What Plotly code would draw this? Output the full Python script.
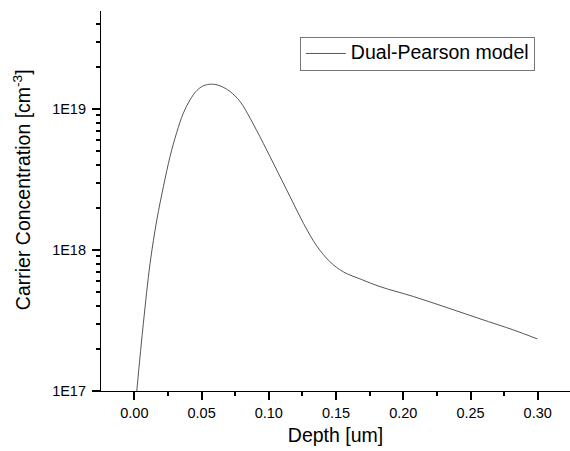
import plotly.graph_objects as go

depth_um = [0.0018, 0.0067, 0.0117, 0.0167, 0.0216, 0.0266, 0.0315, 0.0364,
            0.0414, 0.0464, 0.0513, 0.0576, 0.0637, 0.0712, 0.0786, 0.0861,
            0.0959, 0.1059, 0.1158, 0.1257, 0.1356, 0.1455, 0.1554, 0.1691, 0.1827,
            0.2075, 0.2323, 0.2571, 0.2819, 0.2997]
concentration = [1.00e17, 3.02e17, 8.05e17, 1.63e18, 2.81e18, 4.62e18, 6.80e18,
                 9.33e18, 1.16e19, 1.35e19, 1.46e19, 1.50e19, 1.46e19, 1.33e19, 1.13e19,
                 8.60e18, 5.71e18, 3.69e18, 2.39e18, 1.55e18, 1.07e18, 8.25e17,
                 7.00e17, 6.17e17, 5.50e17, 4.68e17, 3.91e17, 3.25e17, 2.71e17, 2.34e17]

y_major_vals = [1e17, 1e18, 1e19]
y_major_text = ["1E17", "1E18", "1E19"]
y_minor_vals = [float(m) * 10.0 ** e for e in (17, 18, 19) for m in range(2, 10)
                if float(m) * 10.0 ** e <= 5e19]

series_name = "Dual-Pearson model"
x_title = "Depth [um]"
y_title = "Carrier Concentration [cm<sup>-3</sup>]"

FONT = "Liberation Sans, Arial, sans-serif"

fig = go.Figure()
fig.add_trace(go.Scatter(
    x=depth_um, y=concentration, mode="lines",
    name="<span style='font-size:19.5px'>" + series_name + "</span>",
    line=dict(color="#555555", width=1, shape="spline", smoothing=1.0),
))

fig.update_layout(
    width=570, height=451,
    margin=dict(l=101, r=0, t=11, b=60),
    paper_bgcolor="white", plot_bgcolor="white",
    font=dict(family=FONT, color="black", size=14),
    showlegend=True,
    legend=dict(
        x=0.424, y=0.932, xanchor="left", yanchor="top",
        bordercolor="#777777", borderwidth=1, bgcolor="white",
        font=dict(family=FONT, size=14, color="black"),
        itemwidth=40,
    ),
    annotations=[dict(
        text=y_title, textangle=-90, showarrow=False,
        xref="paper", yref="paper", x=-0.168, y=0.529,
        xanchor="center", yanchor="middle",
        font=dict(family=FONT, size=19.5, color="black"),
    )],
)

fig.update_xaxes(
    automargin=False,
    range=[-0.0248, 0.324],
    tickmode="linear", tick0=0, dtick=0.05, tickformat=".2f",
    ticks="outside", ticklen=8, tickwidth=1.5, tickcolor="black",
    showline=True, linecolor="black", linewidth=1.2, mirror=False,
    showgrid=False, zeroline=False,
    tickfont=dict(family=FONT, size=14.5),
    title=dict(text=x_title, font=dict(family=FONT, size=19.5), standoff=8),
    minor=dict(tickmode="linear", tick0=0, dtick=0.025, ticks="outside",
               ticklen=4, tickwidth=1.5, tickcolor="black", showgrid=False),
)

fig.update_yaxes(
    automargin=False,
    type="log", range=[17, 19.695],
    tickmode="array", tickvals=y_major_vals, ticktext=y_major_text,
    ticks="outside", ticklen=8, tickwidth=1.5, tickcolor="black",
    showline=True, linecolor="black", linewidth=1.2, mirror=False,
    showgrid=False, zeroline=False,
    tickfont=dict(family=FONT, size=14.5),
    ticklabelstandoff=3,
    minor=dict(tickmode="array", tickvals=y_minor_vals, ticks="outside",
               ticklen=4, tickwidth=1.5, tickcolor="black", showgrid=False),
)

fig.write_html("out.html", config={"displayModeBar": False},
               post_script="document.body.style.margin='0px';")
